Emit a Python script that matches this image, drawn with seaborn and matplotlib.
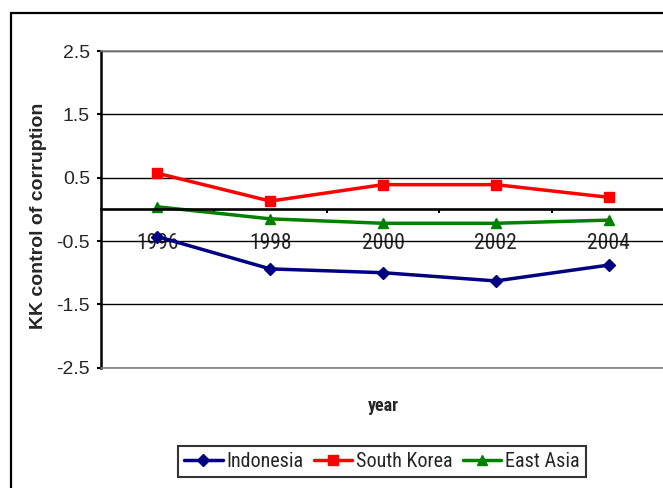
import numpy as np
import pandas as pd
import matplotlib
matplotlib.use("Agg")
import matplotlib.pyplot as plt
from matplotlib.patches import Rectangle
from matplotlib.ticker import FixedLocator
import seaborn as sns

# valores
anos = [1996, 1998, 2000, 2002, 2004]
indonesia = [-0.43, -0.94, -1.00, -1.13, -0.88]
coreia_sul = [0.57, 0.13, 0.39, 0.39, 0.19]
asia_leste = [0.04, -0.15, -0.22, -0.22, -0.17]
series = ["Indonesia", "South Korea", "East Asia"]
cores = ["#000080", "#FF0000", "#008000"]
marcadores = ["D", "s", "^"]
tamanhos = [6.0, 6.5, 7.5]
y_ticks = [-2.5, -1.5, -0.5, 0.5, 1.5, 2.5]

dados = pd.DataFrame({
    "ano": anos * 3,
    "valor": indonesia + coreia_sul + asia_leste,
    "serie": [s for s in series for _ in anos],
})

sns.set_theme(style="white")
plt.rcParams["axes.unicode_minus"] = False
plt.rcParams["font.family"] = ["Liberation Sans", "DejaVu Sans"]
estreita = ["Roboto Condensed", "Archivo Narrow", "DejaVu Sans"]

fig = plt.figure(figsize=(6.63, 4.88), dpi=100)
ax = fig.add_axes([101 / 663, 120.3 / 488, 564 / 663, 316.7 / 488])

sns.pointplot(data=dados, x="ano", y="valor", hue="serie", hue_order=series,
              palette=cores, markers=marcadores, linestyles="-",
              errorbar=None, legend=False, ax=ax)

for linha, tam in zip(ax.lines, tamanhos):
    linha.set_markersize(tam)
    linha.set_linewidth(2.5)
    linha.set_markeredgewidth(1)

ax.set_ylim(-2.5, 2.5)
ax.set_yticks(y_ticks)
ax.set_yticklabels([f"{v:.1f}" for v in y_ticks], fontsize=14)
ax.yaxis.grid(True, color="black", linewidth=1.0)
ax.set_axisbelow(True)

# eixo x cruzando em zero
ax.spines["bottom"].set_position(("data", 0))
ax.spines["bottom"].set_color("black")
ax.spines["bottom"].set_linewidth(1.9)
ax.spines["left"].set_color("black")
ax.spines["left"].set_linewidth(1.8)
ax.spines["top"].set_color("#808080")
ax.spines["top"].set_linewidth(1.2)
ax.spines["right"].set_visible(False)
ax.axhline(-2.5, color="#808080", linewidth=1.2, zorder=3, clip_on=False)

ax.xaxis.set_minor_locator(FixedLocator([0.5, 1.5, 2.5, 3.5]))
ax.tick_params(axis="x", which="major", length=0, pad=17)
ax.tick_params(axis="x", which="minor", bottom=True, length=3, width=1.5,
               direction="out", color="black")
ax.tick_params(axis="y", left=True, length=3, width=1.5, direction="out",
               color="black", pad=5)
for rotulo in ax.get_xticklabels():
    rotulo.set_fontfamily(estreita)
    rotulo.set_fontsize(15.5)

ax.set_xlabel("year", fontsize=13, fontweight="bold", family=estreita)
ax.xaxis.set_label_coords(0.5, -0.093)
ax.set_ylabel("KK control of corruption", fontsize=14, fontweight="bold")
ax.yaxis.set_label_coords(-0.0957, 0.48)

leg = fig.legend(ax.lines[:3], series, loc="upper center", ncol=3,
                 bbox_to_anchor=(382 / 663, 1 - 446 / 488),
                 prop={"family": estreita, "size": 14.5},
                 frameon=True, fancybox=False, edgecolor="black",
                 handlelength=1.9, handletextpad=0.2, columnspacing=0.5,
                 borderpad=0.3, borderaxespad=0)
leg.get_frame().set_linewidth(1.5)

# borda externa do gráfico
fig.add_artist(Rectangle((11 / 663, -0.1), 1.0, 1 - 13 / 488 + 0.1,
                         transform=fig.transFigure, fill=False,
                         edgecolor="black", linewidth=1.6))

fig.savefig("out.png", dpi=100)
